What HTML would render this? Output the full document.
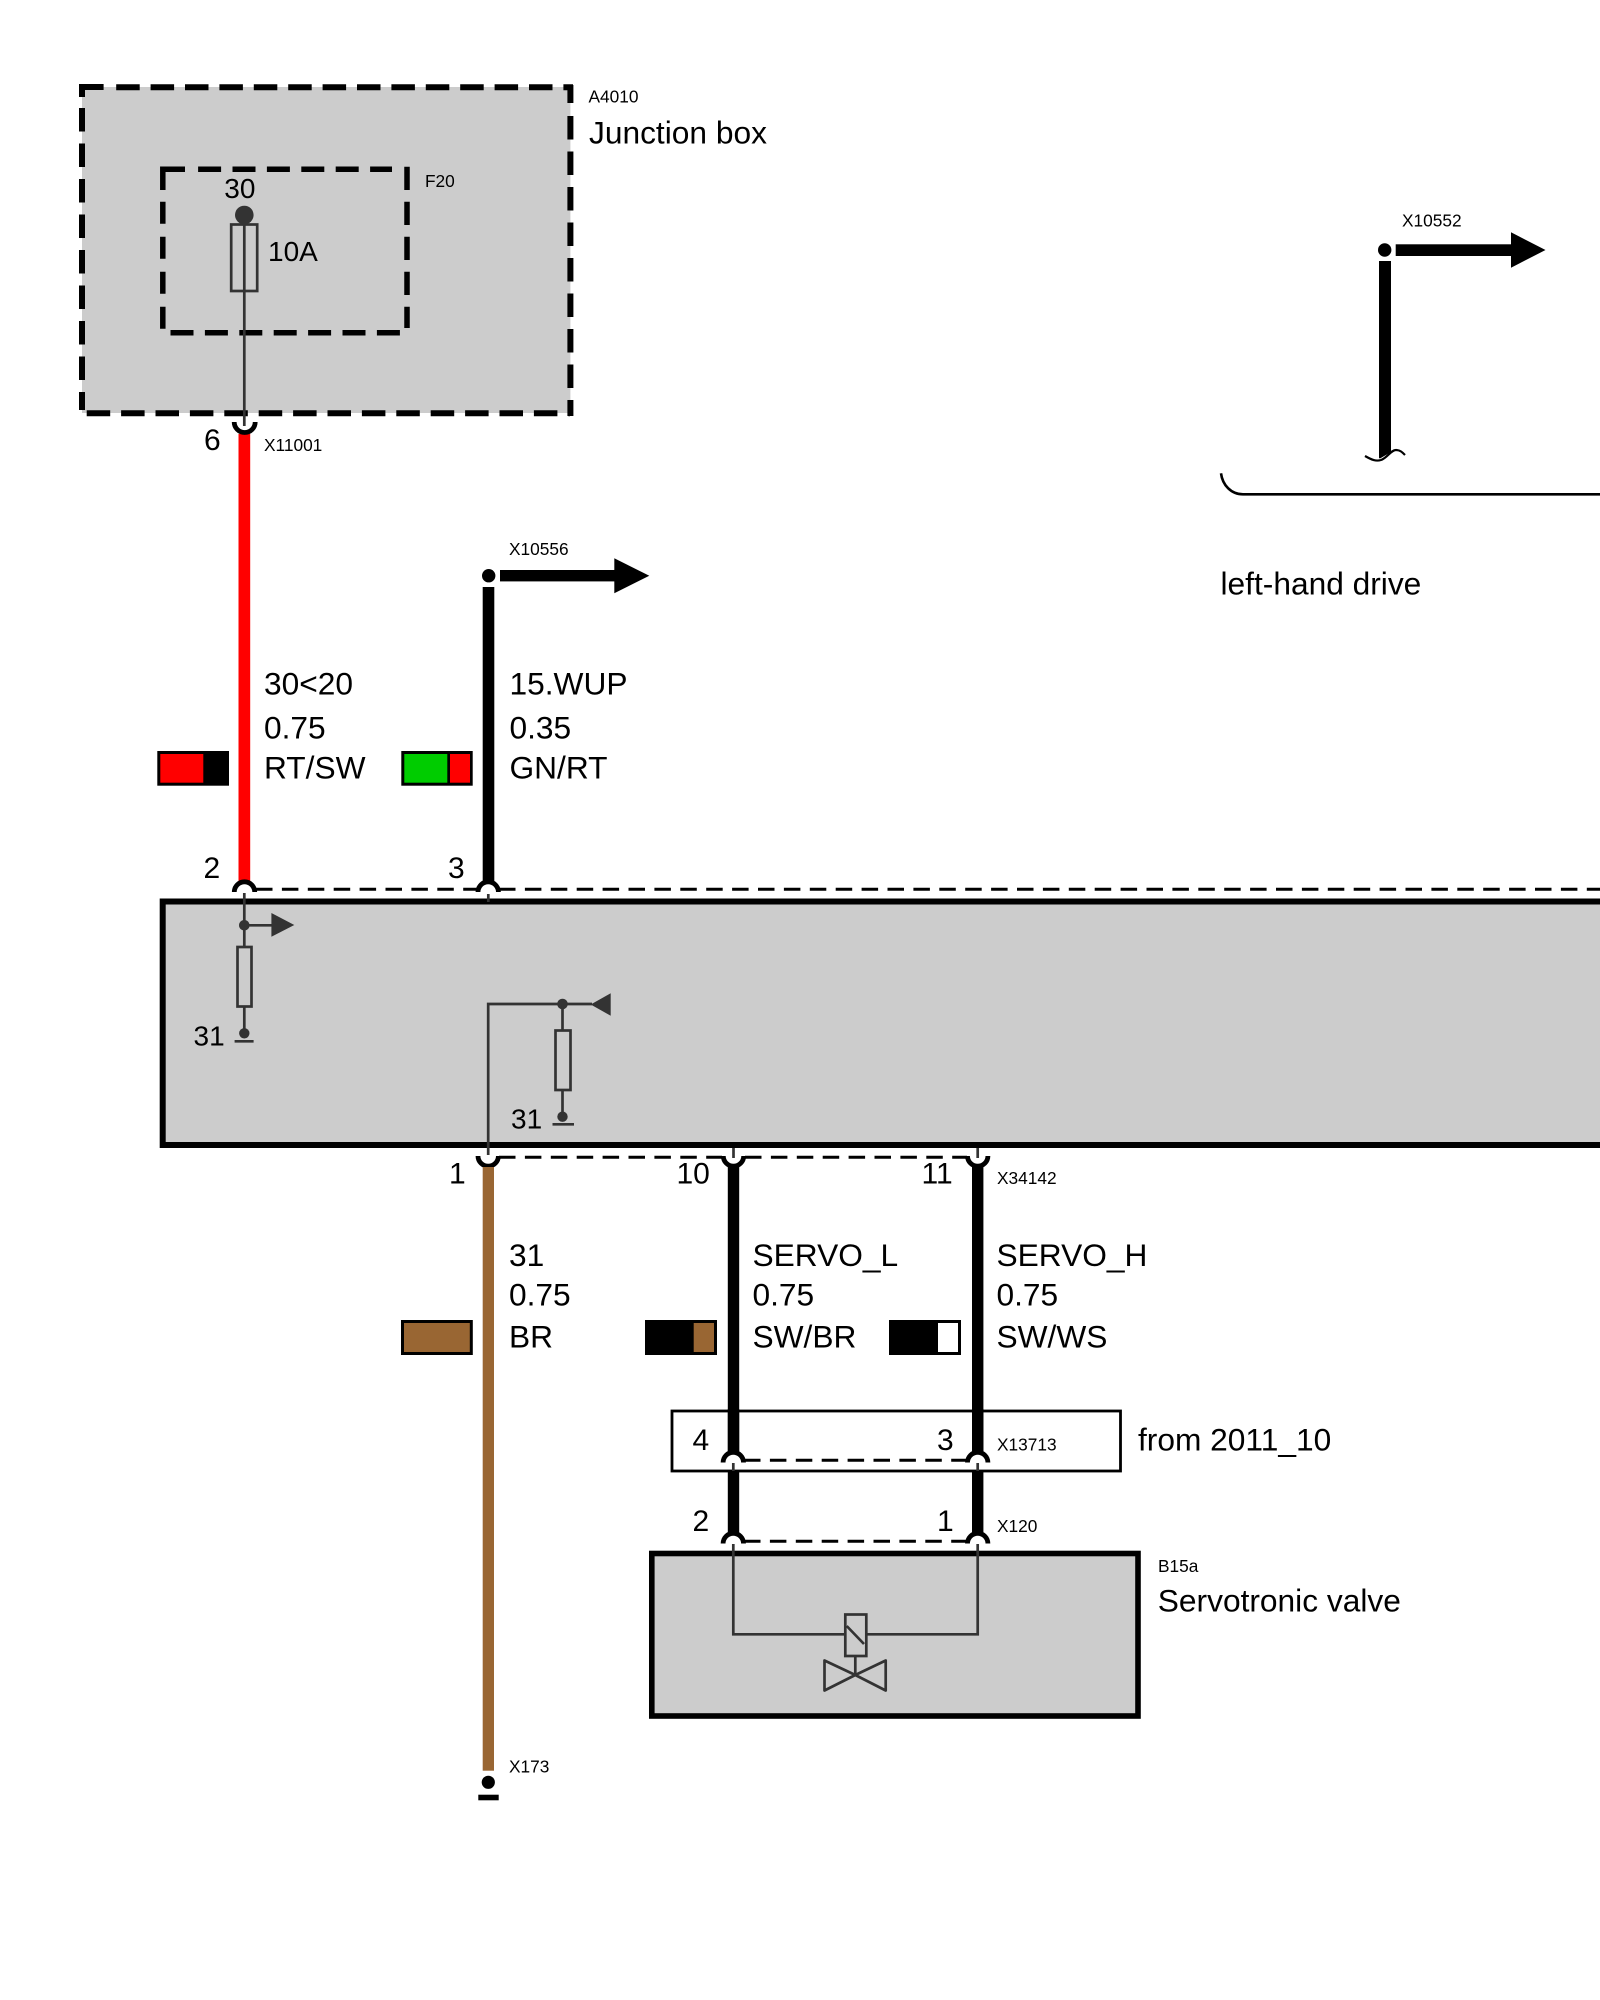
<!DOCTYPE html>
<html><head><meta charset="utf-8"><style>
html,body{margin:0;padding:0;background:#fff}
svg{display:block}
text{font-family:"Liberation Sans",Arial,sans-serif;fill:#000}
.b{font-size:31.7px}
.p{font-size:30px}
.n{font-size:28px}
.s{font-size:17.3px}
.d{stroke:#000;stroke-width:3;fill:none;stroke-dasharray:16.5 9.4}
.a{stroke:#000;stroke-width:4.8;fill:none}
.t{stroke:#333;stroke-width:2.7;fill:none}
.o{stroke:#000;stroke-width:6;fill:none;stroke-dasharray:23.5 10.9}
.i{stroke:#000;stroke-width:5.5;fill:none;stroke-dasharray:23 11.4}
</style></head><body>
<svg width="1600" height="2000" viewBox="0 0 1600 2000" xmlns="http://www.w3.org/2000/svg">
<rect width="1600" height="2000" fill="#fff"/>

<!-- Junction box -->
<rect x="82" y="87" width="488.4" height="326" fill="#ccc"/>
<path d="M82 97V87H103.6" stroke="#000" stroke-width="6" fill="none"/>
<line class="o" x1="116.2" y1="87.3" x2="573" y2="87.3"/>
<line class="o" x1="82" y1="108" x2="82" y2="410" style="stroke-dasharray:23.5 12"/>
<line class="o" x1="86.7" y1="413.3" x2="570" y2="413.3"/>
<line class="o" x1="570.4" y1="85" x2="570.4" y2="416" style="stroke-dasharray:18 13 23.5 12 23.5 12 23.5 12 23.5 12 23.5 12 23.5 12 23.5 12 23.5 12 23.5 12"/>

<path d="M162.8 190V169.3H185" stroke="#000" stroke-width="5.5" fill="none"/>
<line class="i" x1="198.1" y1="169.3" x2="392" y2="169.3"/>
<line class="i" x1="162.8" y1="201.7" x2="162.8" y2="329" style="stroke-dasharray:22 13"/>
<line class="i" x1="407" y1="166.7" x2="407" y2="328" style="stroke-dasharray:23.3 11.7"/>
<line class="i" x1="170.5" y1="332.7" x2="400" y2="332.7"/>

<circle cx="244.3" cy="215" r="9.3" fill="#333"/>
<rect x="231.2" y="224.5" width="26" height="66.5" fill="none" stroke="#333" stroke-width="2.7"/>
<line class="t" x1="244.3" y1="224" x2="244.3" y2="426"/>

<text class="n" x="224.3" y="198">30</text>
<text class="n" x="268" y="261">10A</text>
<text class="s" x="588.5" y="102.5">A4010</text>
<text class="b" x="589" y="143.5">Junction box</text>
<text class="s" x="425" y="187">F20</text>

<!-- X11001 -->
<rect x="238.5" y="434" width="11.7" height="448" fill="#f00"/>
<path class="a" d="M234.2 422a10.5 10.5 0 0 0 21 0"/>
<text class="p" x="204" y="450">6</text>
<text class="s" x="264" y="451">X11001</text>

<!-- X10556 -->
<circle cx="488.7" cy="575.7" r="6.7" fill="#000"/>
<rect x="500" y="570" width="115" height="11.4" fill="#000"/>
<path d="M614.3 558.3L649.3 575.7L614.3 593.3Z" fill="#000"/>
<rect x="482.7" y="587" width="11.6" height="296" fill="#000"/>
<text class="s" x="509" y="555">X10556</text>

<text class="b" x="264" y="694.7">30&lt;20</text>
<text class="b" x="264" y="738.3">0.75</text>
<text class="b" x="264" y="778.3">RT/SW</text>
<text class="b" x="509.5" y="694.7">15.WUP</text>
<text class="b" x="509.5" y="738.3">0.35</text>
<text class="b" x="509.5" y="778.3">GN/RT</text>

<rect x="157.3" y="751" width="71.7" height="34.7" fill="#000"/>
<rect x="160.3" y="754" width="43" height="28.7" fill="#f00"/>
<rect x="401.3" y="751" width="71.4" height="34.7" fill="#000"/>
<rect x="404.3" y="754" width="43" height="28.7" fill="#0c0"/>
<rect x="450" y="754" width="20" height="28.7" fill="#f00"/>

<text class="p" x="203.5" y="878">2</text>
<text class="p" x="448" y="878">3</text>

<!-- Main box -->
<line class="d" x1="256" y1="889.3" x2="478" y2="889.3"/>
<line class="d" x1="499" y1="889.3" x2="1600" y2="889.3"/>
<rect x="162.7" y="901.5" width="1450" height="243.5" fill="#ccc" stroke="#000" stroke-width="6"/>
<path class="a" d="M234.3 892a10.2 10.2 0 0 1 20.4 0"/>
<path class="a" d="M478 892a10.2 10.2 0 0 1 20.4 0"/>
<line x1="488.3" y1="894" x2="488.3" y2="902" stroke="#333" stroke-width="2.7"/>

<line class="t" x1="244.3" y1="893" x2="244.3" y2="946"/>
<circle cx="244.3" cy="925.3" r="5.3" fill="#333"/>
<line class="t" x1="244.3" y1="925.3" x2="272" y2="925.3"/>
<path d="M271.4 913L294.3 925L271.4 936.7Z" fill="#333"/>
<rect x="237.5" y="947" width="14" height="59.5" fill="none" stroke="#333" stroke-width="2.7"/>
<line class="t" x1="244.3" y1="1006" x2="244.3" y2="1033"/>
<circle cx="244.3" cy="1033.3" r="5.2" fill="#333"/>
<line x1="234.6" y1="1041.3" x2="253.6" y2="1041.3" stroke="#333" stroke-width="2.7"/>
<text class="n" x="193.5" y="1045.7">31</text>

<path class="t" d="M488.2 1155V1004H592"/>
<circle cx="562.5" cy="1004" r="5.3" fill="#333"/>
<path d="M590.7 1004.5L610.7 993.3V1015.7Z" fill="#333"/>
<line class="t" x1="562.5" y1="1004" x2="562.5" y2="1030"/>
<rect x="555.5" y="1030.5" width="15" height="59.5" fill="none" stroke="#333" stroke-width="2.7"/>
<line class="t" x1="562.5" y1="1090" x2="562.5" y2="1117"/>
<circle cx="562.5" cy="1116.7" r="5.2" fill="#333"/>
<line x1="552.5" y1="1124.3" x2="574" y2="1124.3" stroke="#333" stroke-width="2.7"/>
<text class="n" x="511" y="1128.7">31</text>

<!-- X34142 -->
<line class="d" x1="499" y1="1157.3" x2="722" y2="1157.3"/>
<line class="d" x1="745" y1="1157.3" x2="967" y2="1157.3"/>
<path class="a" d="M478 1156a10.2 10.2 0 0 0 20.4 0"/>
<path class="a" d="M723.3 1156a10.2 10.2 0 0 0 20.4 0"/>
<path class="a" d="M967.5 1156a10.2 10.2 0 0 0 20.4 0"/>
<line x1="733.5" y1="1148" x2="733.5" y2="1158" stroke="#333" stroke-width="2.7"/>
<line x1="977.7" y1="1148" x2="977.7" y2="1158" stroke="#333" stroke-width="2.7"/>
<text class="p" x="449" y="1183.3">1</text>
<text class="p" x="676.5" y="1183.3">10</text>
<text class="p" x="921.5" y="1183.3">11</text>
<text class="s" x="997" y="1184">X34142</text>

<rect x="482.7" y="1167" width="11.3" height="603.7" fill="#963"/>
<circle cx="488.3" cy="1782.3" r="6.6" fill="#000"/>
<rect x="478.3" y="1794.7" width="20.4" height="5.6" fill="#000"/>
<text class="s" x="509" y="1772.7">X173</text>

<rect x="727.8" y="1167" width="11.4" height="284" fill="#000"/>
<rect x="972" y="1167" width="11.4" height="284" fill="#000"/>

<text class="b" x="509" y="1266">31</text>
<text class="b" x="509" y="1305.7">0.75</text>
<text class="b" x="509" y="1347.3">BR</text>
<text class="b" x="752.5" y="1266">SERVO_L</text>
<text class="b" x="752.5" y="1305.7">0.75</text>
<text class="b" x="752.5" y="1347.3">SW/BR</text>
<text class="b" x="996.5" y="1266">SERVO_H</text>
<text class="b" x="996.5" y="1305.7">0.75</text>
<text class="b" x="996.5" y="1347.3">SW/WS</text>

<rect x="401" y="1320" width="71.8" height="35" fill="#000"/>
<rect x="404" y="1323" width="65.8" height="29" fill="#963"/>
<rect x="645" y="1320" width="72" height="35" fill="#000"/>
<rect x="693.7" y="1323" width="20.3" height="29" fill="#963"/>
<rect x="889" y="1320" width="72" height="35" fill="#000"/>
<rect x="938" y="1323" width="20" height="29" fill="#fff"/>

<!-- X13713 -->
<rect x="672" y="1411" width="448.5" height="60" fill="none" stroke="#000" stroke-width="2.8"/>
<rect x="727.8" y="1409" width="11.4" height="43" fill="#000"/>
<rect x="972" y="1409" width="11.4" height="43" fill="#000"/>
<line class="d" x1="744" y1="1460.3" x2="967" y2="1460.3"/>
<path class="a" d="M723.1 1462.5a10.2 10.2 0 0 1 20.4 0"/>
<path class="a" d="M967.5 1462.5a10.2 10.2 0 0 1 20.4 0"/>
<line x1="733.3" y1="1463" x2="733.3" y2="1472" stroke="#333" stroke-width="2.7"/>
<line x1="977.7" y1="1463" x2="977.7" y2="1472" stroke="#333" stroke-width="2.7"/>
<text class="p" x="692.5" y="1450">4</text>
<text class="p" x="937" y="1450">3</text>
<text class="s" x="997" y="1450.7">X13713</text>
<text class="b" x="1138" y="1450.7">from 2011_10</text>

<rect x="727.8" y="1471" width="11.4" height="62" fill="#000"/>
<rect x="972" y="1471" width="11.4" height="62" fill="#000"/>
<line class="d" x1="744" y1="1541.3" x2="967" y2="1541.3"/>
<path class="a" d="M723.1 1543.5a10.2 10.2 0 0 1 20.4 0"/>
<path class="a" d="M967.5 1543.5a10.2 10.2 0 0 1 20.4 0"/>
<text class="p" x="692.5" y="1531">2</text>
<text class="p" x="937" y="1531">1</text>
<text class="s" x="997" y="1532">X120</text>

<!-- Valve box -->
<rect x="651.8" y="1553.5" width="486.2" height="162.5" fill="#ccc" stroke="#000" stroke-width="5.6"/>
<path class="t" d="M733.3 1544V1634.3H846"/>
<path class="t" d="M977.7 1544V1634.3H866"/>
<rect x="845.3" y="1614.5" width="21" height="41.5" fill="#ccc" stroke="#333" stroke-width="2.7"/>
<line class="t" x1="846.7" y1="1626" x2="864" y2="1644"/>
<line class="t" x1="855.3" y1="1656" x2="855.3" y2="1675"/>
<path class="t" d="M855.3 1675L824.5 1690.5V1660.5ZM855.3 1675L885.7 1690.5V1660.5Z" stroke-linejoin="round"/>
<text class="s" x="1158" y="1572">B15a</text>
<text class="b" x="1157.8" y="1611.3">Servotronic valve</text>

<!-- X10552 -->
<circle cx="1384.7" cy="250" r="6.7" fill="#000"/>
<rect x="1395.7" y="244.3" width="116" height="11.7" fill="#000"/>
<path d="M1511 232.3L1545.5 250L1511 267.7Z" fill="#000"/>
<path d="M1379 261H1391V452L1380 458.5L1379 458Z" fill="#000"/>
<path d="M1365 456C1372 460 1376 461.5 1381 460C1387 458 1391 450 1396 450C1400 450 1402 452 1405 455" fill="none" stroke="#000" stroke-width="2.2"/>
<text class="s" x="1402" y="226.7">X10552</text>
<path d="M1221 473.3C1222.5 485 1231 494.3 1243 494.3H1600" fill="none" stroke="#000" stroke-width="2.6"/>
<text class="b" x="1220.5" y="594.3">left-hand drive</text>
</svg>
</body></html>
